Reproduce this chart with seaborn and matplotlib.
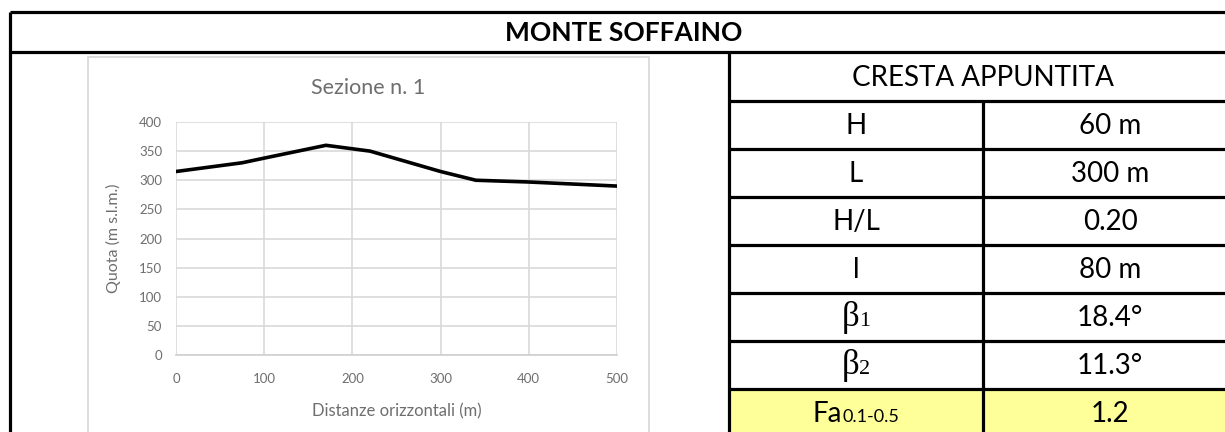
import matplotlib
matplotlib.use("Agg")
import matplotlib.pyplot as plt
from matplotlib.patches import Rectangle
from matplotlib.offsetbox import TextArea, HPacker, AnnotationBbox
import seaborn as sns
import pandas as pd

# ---- data -------------------------------------------------------------
site_name = "MONTE SOFFAINO"
section_title = "Sezione n. 1"
distance_m = [0, 75, 100, 170, 220, 300, 340, 400, 500]
elevation_m = [315, 330, 338, 360, 350, 315, 300, 297, 290]
x_ticks = [0, 100, 200, 300, 400, 500]
y_ticks = [0, 50, 100, 150, 200, 250, 300, 350, 400]
x_label = "Distanze orizzontali (m)"
y_label = "Quota (m s.l.m.)"

shape_name = "CRESTA APPUNTITA"
param_main = ["H", "L", "H/L", "l", "\u03b2", "\u03b2", "Fa"]
param_sub = ["", "", "", "", "1", "2", "0.1-0.5"]
param_values = ["60 m", "300 m", "0.20", "80 m", "18.4\u00b0", "11.3\u00b0", "1.2"]

# ---- style ------------------------------------------------------------
sns.set_theme(style="white")
plt.rcParams["font.family"] = ["Lato", "DejaVu Sans"]

W, H = 1225, 432
fig = plt.figure(figsize=(W / 100, H / 100), dpi=100)
fig.patch.set_facecolor("white")

# background canvas in pixel units (y downwards)
bg = fig.add_axes([0, 0, 1, 1])
bg.set_xlim(0, W)
bg.set_ylim(H, 0)
bg.axis("off")

LINE = dict(color="black", lw=2.3, solid_capstyle="butt")
GREY_TXT = "#6e6e6e"

# table geometry
left, right = 10, 1240
top, head_bot = 12, 52
tab_left, col_div = 729, 983
row_edges = [52, 101, 149, 197, 245, 293, 341, 389, 437]

# highlighted last row
bg.add_patch(Rectangle((tab_left, row_edges[-2]), right - tab_left,
                       row_edges[-1] - row_edges[-2], facecolor="#ffff99",
                       edgecolor="none", zorder=0))

# outer frame and header
bg.plot([left, right], [top, top], **LINE)
bg.plot([left, right], [head_bot, head_bot], **LINE)
bg.plot([left, left], [top, H + 5], **LINE)
bg.plot([tab_left, tab_left], [head_bot, H + 5], **LINE)
bg.plot([col_div, col_div], [row_edges[1], H + 5], **LINE)
for yy in row_edges[1:-1]:
    bg.plot([tab_left, right], [yy, yy], **LINE)

bg.text((left + 1237) / 2, (top + head_bot) / 2 + 1, site_name,
        ha="center", va="center", fontsize=19, fontweight="bold", color="black")

# table content
cx_tab = (tab_left + 1237) / 2
bg.text(cx_tab, (row_edges[0] + row_edges[1]) / 2 + 1, shape_name,
        ha="center", va="center", fontsize=20, color="black")

cx_l = (tab_left + col_div) / 2
cx_r = (col_div + 1237) / 2
for i, (m, s, v) in enumerate(zip(param_main, param_sub, param_values)):
    cy = (row_edges[i + 1] + row_edges[i + 2]) / 2 + 1
    if m == "\u03b2":
        main_props = dict(fontsize=25, family="Liberation Serif", color="black")
        sub_props = dict(fontsize=16, family="Liberation Serif", color="black")
    else:
        main_props = dict(fontsize=20, color="black")
        sub_props = dict(fontsize=13, color="black")
    if s:
        pack = HPacker(children=[TextArea(m, textprops=main_props),
                                 TextArea(s, textprops=sub_props)],
                       align="baseline", pad=0, sep=0)
        ab = AnnotationBbox(pack, (cx_l, cy), xycoords="data", frameon=False,
                            box_alignment=(0.5, 0.5), pad=0)
        bg.add_artist(ab)
    else:
        bg.text(cx_l, cy, m, ha="center", va="center", **main_props)
    bg.text(cx_r, cy, v, ha="center", va="center", fontsize=20, color="black")

# embedded chart frame
bg.add_patch(Rectangle((88, 57), 649 - 88, 400, facecolor="white",
                       edgecolor="#d9d9d9", lw=1.3, zorder=1))
bg.text((88 + 649) / 2, 88, section_title, ha="center", va="center",
        fontsize=15.5, color=GREY_TXT, zorder=2)

# ---- profile chart ----------------------------------------------------
px_l, px_r, px_t, px_b = 176, 617, 122, 355
ax = fig.add_axes([px_l / W, 1 - px_b / H, (px_r - px_l) / W, (px_b - px_t) / H])
ax.set_facecolor("none")

df = pd.DataFrame({"dist": distance_m, "quota": elevation_m})
sns.lineplot(data=df, x="dist", y="quota", ax=ax, color="black", linewidth=2.6,
             zorder=3)

ax.set_xlim(x_ticks[0], x_ticks[-1])
ax.set_ylim(y_ticks[0], y_ticks[-1])
ax.set_xticks(x_ticks)
ax.set_yticks(y_ticks)
ax.grid(True, color="#d9d9d9", lw=1.2)
for side in ["top", "right", "left"]:
    ax.spines[side].set_visible(False)
ax.spines["bottom"].set_color("#cfcfcf")
ax.spines["bottom"].set_linewidth(1.2)
ax.tick_params(axis="both", length=0, labelsize=9.5, labelcolor=GREY_TXT)
ax.tick_params(axis="y", pad=10)
ax.tick_params(axis="x", pad=13)

ax.set_xlabel(x_label, fontsize=12, color=GREY_TXT)
ax.set_ylabel(y_label, fontsize=11.5, color=GREY_TXT)
ax.xaxis.set_label_coords(0.5, (px_b - 403) / (px_b - px_t))
ax.yaxis.set_label_coords((121 - px_l) / (px_r - px_l), 0.5)

fig.savefig("out.png", dpi=100, facecolor="white")
